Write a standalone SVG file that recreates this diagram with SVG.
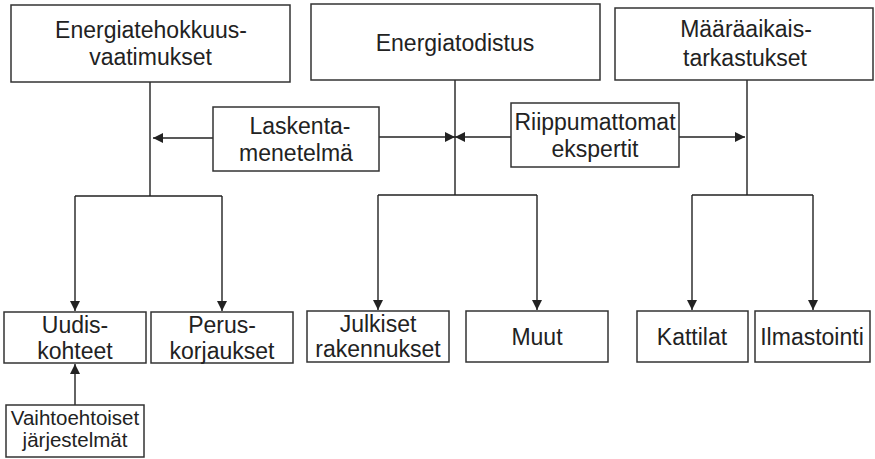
<svg xmlns="http://www.w3.org/2000/svg" width="875" height="459" viewBox="0 0 875 459">
<style>
.box{fill:#fff;stroke:#333;stroke-width:1.5}
.t{font-family:"Liberation Sans",Arial,sans-serif;font-size:23px;fill:#222;text-anchor:middle}
.s{font-size:20.5px}
.c{fill:none;stroke:#222;stroke-width:1.4}
</style>
<defs>
<marker id="ah" markerUnits="userSpaceOnUse" markerWidth="11" markerHeight="11" refX="10" refY="5" orient="auto">
<path d="M0,0 L10,5 L0,10 z" fill="#222"/>
</marker>
</defs>
<rect width="875" height="459" fill="#fff"/>
<g id="connectors">
<path class="c" d="M150,82 V196 M75,196 H222"/>
<path class="c" d="M75,196 V311" marker-end="url(#ah)"/>
<path class="c" d="M222,196 V311" marker-end="url(#ah)"/>
<path class="c" d="M213,138 H153" marker-end="url(#ah)"/>
<path class="c" d="M455,80 V195 M378,195 H537"/>
<path class="c" d="M378,195 V310" marker-end="url(#ah)"/>
<path class="c" d="M537,195 V310" marker-end="url(#ah)"/>
<path class="c" d="M379,137 H455" marker-end="url(#ah)"/>
<path class="c" d="M511,137 H455" marker-end="url(#ah)"/>
<path class="c" d="M679,137 H745" marker-end="url(#ah)"/>
<path class="c" d="M747,80 V195 M692,195 H813"/>
<path class="c" d="M692,195 V310" marker-end="url(#ah)"/>
<path class="c" d="M813,195 V310" marker-end="url(#ah)"/>
<path class="c" d="M75,405 V364" marker-end="url(#ah)"/>
</g>
<g id="energiatehokkuus">
<rect class="box" x="11" y="5" width="279" height="77"/>
<text class="t" x="151" y="38">Energiatehokkuus-</text>
<text class="t" x="150.5" y="65">vaatimukset</text>
</g>
<g id="energiatodistus">
<rect class="box" x="311" y="4" width="289" height="76"/>
<text class="t" x="455" y="51">Energiatodistus</text>
</g>
<g id="maaraaikais">
<rect class="box" x="615" y="8" width="258" height="72"/>
<text class="t" x="746" y="37">Määräaikais-</text>
<text class="t" x="745" y="66">tarkastukset</text>
</g>
<g id="laskenta">
<rect class="box" x="213" y="107" width="166" height="64"/>
<text class="t" x="300" y="134">Laskenta-</text>
<text class="t" x="296" y="161">menetelmä</text>
</g>
<g id="riippumattomat">
<rect class="box" x="511" y="103" width="168" height="64"/>
<text class="t" x="595" y="130">Riippumattomat</text>
<text class="t" x="595" y="157">ekspertit</text>
</g>
<g id="uudiskohteet">
<rect class="box" x="4" y="312" width="142" height="51"/>
<text class="t" x="75" y="333">Uudis-</text>
<text class="t" x="75" y="359">kohteet</text>
</g>
<g id="peruskorjaukset">
<rect class="box" x="151" y="312" width="142" height="51"/>
<text class="t" x="222" y="333">Perus-</text>
<text class="t" x="222" y="359">korjaukset</text>
</g>
<g id="julkiset">
<rect class="box" x="307" y="311" width="142" height="51"/>
<text class="t" x="378" y="332">Julkiset</text>
<text class="t" x="378" y="357">rakennukset</text>
</g>
<g id="muut">
<rect class="box" x="466" y="311" width="142" height="51"/>
<text class="t" x="537" y="345">Muut</text>
</g>
<g id="kattilat">
<rect class="box" x="637" y="311" width="111" height="51"/>
<text class="t" x="692" y="345">Kattilat</text>
</g>
<g id="ilmastointi">
<rect class="box" x="755" y="311" width="115" height="51"/>
<text class="t" x="812" y="345">Ilmastointi</text>
</g>
<g id="vaihtoehtoiset">
<rect class="box" x="6" y="405" width="138" height="52"/>
<text class="t s" x="75" y="425">Vaihtoehtoiset</text>
<text class="t s" x="75" y="447">järjestelmät</text>
</g>
</svg>
